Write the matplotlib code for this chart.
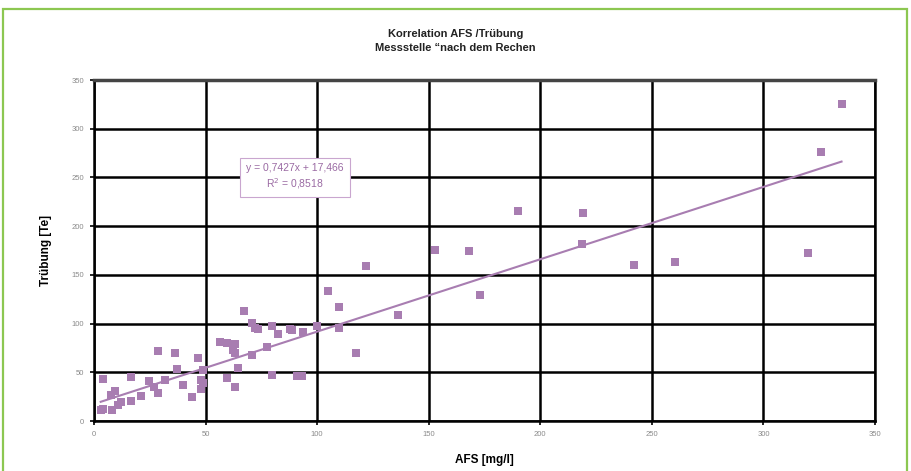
import matplotlib
matplotlib.use("Agg")
import matplotlib.pyplot as plt
import numpy as np
from matplotlib.patches import Rectangle

plt.rcParams['font.family'] = ['Liberation Sans', 'DejaVu Sans']

# Data: AFS [mg/l] vs. Trübung [Te]
afs = [4, 3, 4, 8, 10.8, 7.5, 9.3, 12, 16.4, 16.4, 21, 24.5, 27, 28.7, 28.7,
       32, 36.4, 37, 40, 44, 46.6, 48, 48, 49, 49, 56.5, 59.5, 59.5, 62.5, 63,
       63, 63, 64.7, 67, 70.7, 71, 72, 73.6, 77.4, 79.6, 79.6, 82.5, 88, 88.6,
       90.9, 93, 93.7, 100, 105, 110, 110, 117.5, 122, 136.4, 153, 168, 173,
       190, 218.5, 219, 242, 260.4, 320, 326, 335]
turb = [43, 11, 12, 11, 16, 27, 31, 20, 21, 45.5, 26, 41, 35, 29, 72,
        42, 70, 53, 37, 25, 64.7, 33, 42, 38.7, 52, 81.4, 80, 44, 73, 79,
        69.5, 35, 54, 113, 100.6, 68, 95, 94, 75.6, 97.5, 47, 89, 94, 93,
        46, 46, 91.7, 97, 133, 117, 95, 70, 159, 108.5, 176, 174, 129.4,
        215.5, 182, 214, 160, 163.5, 172.5, 276, 325]

slope = 0.7427
intercept = 17.466
eq_text = "y = 0,7427x + 17,466\nR$^2$ = 0,8518"

x_ticks = [0, 50, 100, 150, 200, 250, 300, 350]
y_ticks = [0, 50, 100, 150, 200, 250, 300, 350]

title_text = "Korrelation AFS /Trübung\nMessstelle \u201cnach dem Rechen"
x_label = "AFS [mg/l]"
y_label = "Trübung [Te]"

purple = '#a87db1'

fig = plt.figure(figsize=(9.11, 4.71), dpi=100)
fig.patch.set_facecolor('white')

# green frame
fig.patches.append(Rectangle((3 / 911, -0.05), 904 / 911, 1 - 9 / 471 + 0.05,
                             transform=fig.transFigure, fill=False,
                             edgecolor='#8cc751', linewidth=1.6))

ax = fig.add_axes([94 / 911, 1 - 421 / 471, (875 - 94) / 911, (421 - 80) / 471])
ax.set_xlim(0, 350)
ax.set_ylim(0, 350)
ax.set_xticks(x_ticks)
ax.set_yticks(y_ticks)
ax.grid(True, color='black', linewidth=1.8)
ax.set_axisbelow(True)
for s in ax.spines.values():
    s.set_color('black')
    s.set_linewidth(1.8)
ax.spines['top'].set_color('#444444')
ax.spines['top'].set_linewidth(2.5)

ax.tick_params(axis='both', labelsize=5.5, labelcolor='#8a8a8a', color='black',
               length=3, width=1.2, direction='out', pad=4)

xs = np.array([min(afs), max(afs)])
ax.plot(xs, slope * xs + intercept, color=purple, linewidth=1.5, zorder=3)
ax.plot(afs, turb, linestyle='none', marker='s', markersize=5.5,
        color=purple, markeredgewidth=0, zorder=4)

ax.text(90, 250.5, eq_text, ha='center', va='center', fontsize=7.5,
        color='#9a6aa3', linespacing=1.3,
        bbox=dict(boxstyle='square,pad=0.6', facecolor='white',
                  edgecolor='#c9a6cf', linewidth=0.8), zorder=5)

ax.set_xlabel(x_label, fontsize=8.5, fontweight='bold', labelpad=12)
ax.set_ylabel(y_label, fontsize=8.5, fontweight='bold', labelpad=14)

fig.text(0.5, 1 - 41 / 471, title_text, ha='center', va='center',
         fontsize=8, fontweight='bold', linespacing=1.6, color='#222222')

fig.savefig('out.png', dpi=100, facecolor='white')
